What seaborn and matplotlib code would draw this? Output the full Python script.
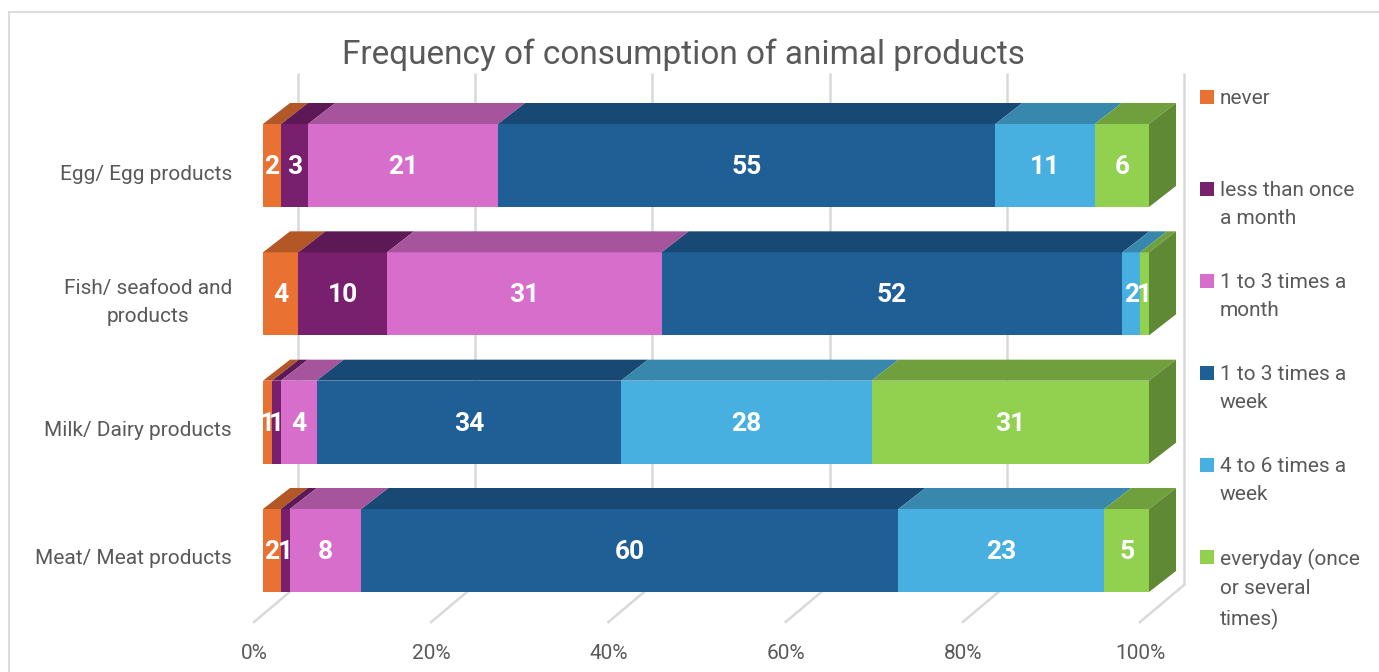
import textwrap

import matplotlib
matplotlib.use("Agg")
import matplotlib.pyplot as plt
import numpy as np
import pandas as pd
import seaborn as sns
from matplotlib.colors import to_rgb
from matplotlib.patches import Polygon, Rectangle

# ---- data -------------------------------------------------------------
categories = ["Egg/ Egg products", "Fish/ seafood and products",
              "Milk/ Dairy products", "Meat/ Meat products"]
category_labels = ["Egg/ Egg products", "Fish/ seafood and\nproducts",
                   "Milk/ Dairy products", "Meat/ Meat products"]
series = ["never", "less than once a month", "1 to 3 times a month",
          "1 to 3 times a week", "4 to 6 times a week",
          "everyday (once or several times)"]
never = [2, 4, 1, 2]
less_than_monthly = [3, 10, 1, 1]
monthly_1_3 = [21, 31, 4, 8]
weekly_1_3 = [55, 52, 34, 60]
weekly_4_6 = [11, 2, 28, 23]
everyday = [6, 1, 31, 5]
tick_values = [0, 20, 40, 60, 80, 100]
tick_labels = ["0%", "20%", "40%", "60%", "80%", "100%"]
colors = ["#E97132", "#78206E", "#D86ECC", "#1F5F96", "#47B0E0", "#92D050"]

counts = pd.DataFrame(
    np.array([never, less_than_monthly, monthly_1_3, weekly_1_3,
              weekly_4_6, everyday]).T,
    index=categories, columns=series)
shares = counts.div(counts.sum(axis=1), axis=0) * 100
ends = shares.cumsum(axis=1)
starts = ends - shares

# ---- figure & geometry --------------------------------------------------
W, H = 1379, 672
TEXT = "#595959"
GRID = "#D9D9D9"
FONT = "Roboto"
plt.rcParams["font.family"] = [FONT, "DejaVu Sans"]

fig = plt.figure(figsize=(W / 100, H / 100), dpi=100)
fig.patch.set_facecolor("white")
# chart-area border
fig.add_artist(Rectangle((9 / W, -0.2), 2, 1 - 12 / H + 0.2, fill=False,
                         edgecolor=GRID, lw=1.3, transform=fig.transFigure))

ax = fig.add_axes([263 / W, 1 - 592 / H, 886 / W, 468 / H])
px_x = 886 / 100.0            # pixels per percent
bar_px = 83.0                 # front-face bar thickness
pitch = 128.33                # pixels between category centres
half = bar_px / 2 / pitch     # half bar thickness in category units


def dx(px):
    return px / px_x


def dy(px):
    return px / pitch


n = len(categories)
depth_x, depth_y = dx(27), dy(21)          # bar depth
wall_x = dx(35)                            # back wall offset
wall_top = -half - dy(51)
floor_back = (n - 1) + half - dy(7)
floor_front = (n - 1) + half + dy(30)
front_shift = -dx(9)


def darker(c, f):
    r, g, b = to_rgb(c)
    return (r * f, g * f, b * f)


# back wall gridlines and floor lines
for t in tick_values:
    ax.plot([t + wall_x, t + wall_x], [wall_top, floor_back], color=GRID,
            lw=1.8, clip_on=False, zorder=0, solid_capstyle="butt")
    ax.plot([t + wall_x, t + front_shift], [floor_back, floor_front],
            color=GRID, lw=1.8, clip_on=False, zorder=0)

# front faces: cumulative bars drawn largest first
for k in range(len(series) - 1, -1, -1):
    sns.barplot(x=ends.iloc[:, k].values, y=categories, orient="h",
                color=colors[k], saturation=1, width=2 * half, linewidth=0,
                ax=ax, zorder=2)

# top and side faces
for i in range(n):
    yt = i - half
    yb = i + half
    for k in range(len(series)):
        x0, x1 = starts.iloc[i, k], ends.iloc[i, k]
        ax.add_patch(Polygon([(x0, yt), (x1, yt), (x1 + depth_x, yt - depth_y),
                              (x0 + depth_x, yt - depth_y)], closed=True,
                             facecolor=darker(colors[k], 0.77), lw=0,
                             clip_on=False, zorder=2))
    x1 = ends.iloc[i, -1]
    ax.add_patch(Polygon([(x1, yt), (x1, yb), (x1 + depth_x, yb - depth_y),
                          (x1 + depth_x, yt - depth_y)], closed=True,
                         facecolor=darker(colors[-1], 0.66), lw=0,
                         clip_on=False, zorder=2))

# value labels
for i in range(n):
    for k in range(len(series)):
        x0, x1 = starts.iloc[i, k], ends.iloc[i, k]
        ax.text((x0 + x1) / 2, i + dy(1.5), f"{counts.iloc[i, k]:g}",
                ha="center", va="center", color="white", fontsize=19,
                fontweight="bold", zorder=5)

# category labels
for i, lab in enumerate(category_labels):
    ax.text(-dx(31), i + dy(8.5), lab, ha="right", va="center",
            multialignment="center", color=TEXT, fontsize=15,
            linespacing=1.6, clip_on=False)

# percentage axis labels
for t, lab in zip(tick_values, tick_labels):
    ax.text(t + front_shift, (n - 1) + half + dy(61), lab, ha="center",
            va="center", color=TEXT, fontsize=15, clip_on=False)

ax.set_xlim(0, 100)
ax.set_ylim((n - 1) + half, -half)
ax.set_xticks([])
ax.set_yticks([])
ax.set_xlabel("")
ax.set_ylabel("")
for s in ax.spines.values():
    s.set_visible(False)
ax.patch.set_alpha(0)

# title
fig.text(683 / W, 1 - 55 / H, "Frequency of consumption of animal products",
         ha="center", va="center", color=TEXT, fontsize=24)

# legend
for k, name in enumerate(series):
    yc = 97 + 92 * k
    fig.add_artist(Rectangle((1200 / W, 1 - (yc + 7) / H), 14 / W, 14 / H,
                             facecolor=colors[k], lw=0,
                             transform=fig.transFigure))
    fig.text(1220 / W, 1 - (yc - 8) / H, textwrap.fill(name, 14),
             ha="left", va="top", color=TEXT, fontsize=15, linespacing=1.62)

fig.savefig("out.png", dpi=100)
